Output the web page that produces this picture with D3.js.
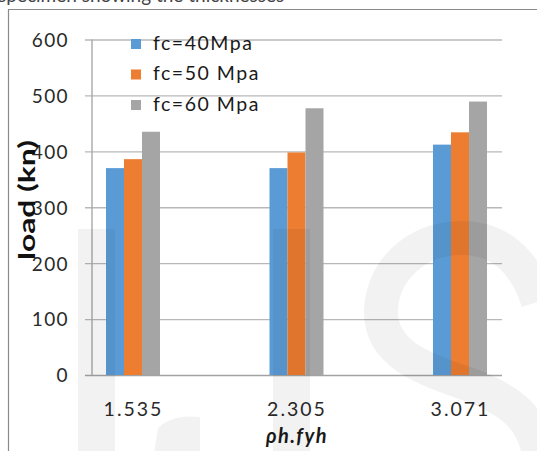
<!DOCTYPE html>
<html>
<head>
<meta charset="utf-8">
<script src="https://cdn.jsdelivr.net/npm/d3@7"></script>
<style>
  html, body { margin: 0; padding: 0; background: #fff; }
  svg { display: block; }
</style>
</head>
<body>
<svg id="chart" width="537" height="451"></svg>
<script>
// Load capacity versus transverse reinforcement index, by concrete strength
const categories = ["1.535", "2.305", "3.071"];
const seriesNames = ["fc=40Mpa", "fc=50 Mpa", "fc=60 Mpa"];
const fc40 = [370, 370, 412];
const fc50 = [386, 398, 434];
const fc60 = [435, 477, 489];
const yTicks = [0, 100, 200, 300, 400, 500, 600];
const colors = ["#5b9bd5", "#ed7d31", "#a5a5a5"];

const seriesValues = [fc40, fc50, fc60];
const rows = categories.map((c, i) => ({
  cat: c,
  vals: seriesNames.map((s, k) => ({ series: s, value: seriesValues[k][i] }))
}));

const svg = d3.select("#chart");
const font = "Lato, 'Open Sans', sans-serif";

const plotLeft = 92, plotRight = 502, gridLeft = 85;
const y = d3.scaleLinear().domain([0, 600]).range([375, 39.5]);
const x = d3.scalePoint().domain(categories).range([133, 460]);
const xs = d3.scaleBand().domain(seriesNames).range([-27, 27]);

// caption line running off the top edge
svg.append("text")
  .attr("x", -2).attr("y", 1.5)
  .attr("font-family", font).attr("font-size", 19)
  .attr("fill", "#444")
  .text("specimen showing the thicknesses");

// frame
svg.append("path")
  .attr("d", "M8.5,451 V9.5 H537")
  .attr("fill", "none").attr("stroke", "#8a8a8a").attr("stroke-width", 1.2);

// gridlines
svg.append("g")
  .attr("transform", `translate(${gridLeft},0)`)
  .call(d3.axisRight(y).tickValues(yTicks).tickSize(plotRight - gridLeft).tickFormat(""))
  .call(g => g.select(".domain").remove())
  .call(g => g.selectAll(".tick line")
    .attr("stroke", d => d === 0 ? "#a3a3a3" : "#b8b8b8")
    .attr("stroke-width", 1.4));

// vertical axis line
svg.append("line")
  .attr("x1", plotLeft).attr("x2", plotLeft)
  .attr("y1", y(600)).attr("y2", y(0))
  .attr("stroke", "#a8a8a8").attr("stroke-width", 1.4);

// y tick labels
svg.append("g")
  .attr("transform", "translate(69,0)")
  .call(d3.axisLeft(y).tickValues(yTicks).tickSize(0).tickPadding(0))
  .call(g => g.select(".domain").remove())
  .call(g => g.selectAll("text")
    .attr("font-family", font).attr("font-size", 19)
    .attr("letter-spacing", 1.4)
    .attr("fill", "#2a2a2a").attr("dy", "0.36em"));

// bars
const groups = svg.append("g").selectAll("g")
  .data(rows).join("g")
  .attr("transform", d => `translate(${x(d.cat)},0)`);

groups.selectAll("rect")
  .data(d => d.vals).join("rect")
  .attr("x", d => xs(d.series))
  .attr("width", xs.bandwidth())
  .attr("y", d => y(d.value))
  .attr("height", d => y(0) - y(d.value))
  .attr("fill", (d, i) => colors[i]);

// x tick labels
svg.append("g")
  .attr("transform", "translate(0,375)")
  .call(d3.axisBottom(x).tickSize(0).tickPadding(0))
  .call(g => g.select(".domain").remove())
  .call(g => g.selectAll("text")
    .attr("font-family", font).attr("font-size", 19.5)
    .attr("letter-spacing", 2)
    .attr("fill", "#2a2a2a").attr("dy", 0).attr("y", 40.5));

// axis titles
svg.append("text")
  .attr("x", 297).attr("y", 443)
  .attr("text-anchor", "middle")
  .attr("font-family", font).attr("font-size", 20)
  .attr("font-weight", "bold").attr("font-style", "italic")
  .attr("letter-spacing", 1.5)
  .attr("fill", "#1a1a1a")
  .text("ρh.fyh");

svg.append("text")
  .attr("transform", "translate(35,200) rotate(-90)")
  .attr("text-anchor", "middle")
  .attr("font-family", font).attr("font-size", 23)
  .attr("font-weight", "bold")
  .attr("textLength", 120).attr("lengthAdjust", "spacingAndGlyphs")
  .attr("fill", "#111")
  .text("load (kn)");

// legend
const legend = svg.append("g").selectAll("g")
  .data(seriesNames).join("g")
  .attr("transform", (d, i) => `translate(131,${39 + i * 30.5})`);
legend.append("rect")
  .attr("width", 10).attr("height", 10)
  .attr("fill", (d, i) => colors[i]);
legend.append("text")
  .attr("x", 22).attr("y", 10.5)
  .attr("font-family", font).attr("font-size", 19.5)
  .attr("letter-spacing", 1.5)
  .attr("fill", "#1a1a1a")
  .text(d => d);

// faint publisher watermark over the plot
const mark = svg.append("g").attr("fill", "#000").attr("fill-opacity", 0.05);
mark.append("rect").attr("x", 78).attr("y", 229).attr("width", 37).attr("height", 230);
mark.append("path").attr("d", "M273,229 H310 V460 H273 Z");
mark.append("path").attr("d", "M153,460 L158,428 Q172,414 200,417 L200,460 Z");
svg.append("path")
  .attr("d", "M538,302 C524,257 495,238 462,238 C415,238 381,272 381,312 C381,352 420,368 462,382 C510,398 540,420 540,470")
  .attr("fill", "none").attr("stroke", "#000").attr("stroke-opacity", 0.05)
  .attr("stroke-width", 34);
</script>
</body>
</html>
